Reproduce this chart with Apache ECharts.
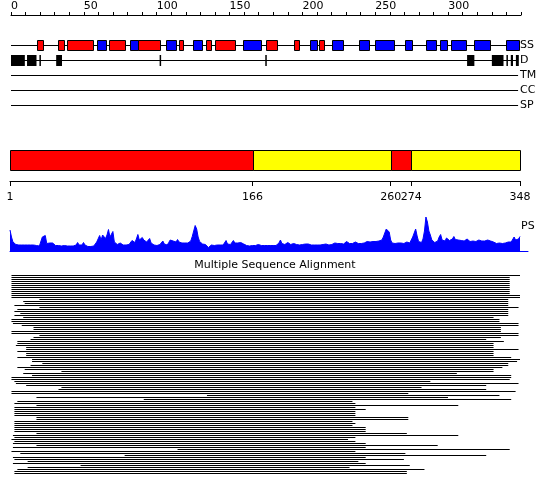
<!DOCTYPE html>
<html><head><meta charset="utf-8">
<script src="https://cdn.jsdelivr.net/npm/echarts@6/dist/echarts.min.js"></script>
<style>html,body{margin:0;padding:0;background:#fff}#c{width:550px;height:495px}</style>
</head><body><div id="c"></div>
<script>
const seqLength = 348;
const trackNames = ['SS', 'D', 'TM', 'CC', 'SP'];
// secondary structure: H = helix, E = strand
const ssStart = [18, 32.5, 38.5, 59, 67.5, 82, 87, 106.5, 115, 125, 134, 140, 159.5, 175, 194, 205.5, 211.5, 220.5, 238.5, 249.5, 270.5, 285, 294.5, 302, 318, 339.5];
const ssEnd   = [22, 36.5, 56, 65, 78.5, 87, 102, 113, 118, 131, 137, 154, 171.5, 182.5, 197.5, 210, 214.5, 227.5, 246, 262.5, 275, 291.5, 299, 312, 329, 348.5];
const ssType  = ['H','H','H','E','H','E','H','E','H','E','H','H','E','H','H','E','H','E','E','E','E','E','E','E','E','E'];
// disorder
const disStart = [0, 11, 19.5, 31, 102, 174.5, 313, 330, 340, 343, 346.5];
const disEnd   = [9.5, 17.5, 20.5, 35, 103, 175.5, 318, 338, 341, 344.5, 348.5];
// domains
const domainBounds = [1, 166, 260, 274, 348];
const domainKind = ['A', 'B', 'A', 'B'];
// PS profile (per residue)
const psValues = [
21,14,9,7,6.5,6.5,6,5.5,6,5.5,6,5.5,6,7,6,5.5,6,7,5.5,5.5,
5,4.5,14,15,15.5,7.5,7,8,7.5,8,7.5,5.5,5,5.5,6.5,5,5,5.5,4.5,5,
5.5,5,4.5,5,5.5,6,8.5,6,5.5,6,8.5,6,5,4.5,5,4.5,4.5,5,7,9,
11,15.5,11,16,18,12.5,16,21.5,14,12,19.5,9,7,6.5,6,8,6.5,6,6.5,6,
7,6.5,7.5,10.5,9,8.5,12,16.5,11,10.5,13.5,11,12.5,9,10,12.5,8,6.5,6,5.5,
5.5,6,6.5,8,10,7,5.5,6,8.5,11,9.5,10,11.5,9,11.5,9,8.5,8,8.5,8,
8.5,8,8.5,10,14.5,20,25.5,22,14,9.5,7.5,7,7,6.5,5,3.5,4.5,6,6,5.5,
6,6,5.5,6,6.5,6,7,10.5,7,6,6.5,7,10.5,8,7.5,8,7.5,8.5,10,7,
6,5.5,5.5,5,5.5,5.5,5,5.5,6,6.5,7,5.5,5,5.5,5,5.5,5,5.5,5,5.5,
5,5.5,6,8,11,7.5,6.5,6.5,7,8.5,7,6.5,7,7.5,7.5,6.5,6.5,6,6.5,6.5,
7,7,8.5,7,6.5,6,6,6,5.5,6,6,6,6.5,6.5,8,7,6.5,6,6.5,6.5,
7,8,9,7.5,7,7.5,7,7,8,9.5,8,7.5,7.5,7.5,8,9,8,7.5,7.5,7.5,
8,8,8.5,9.5,10.5,9,10,9.5,9,9.5,9,10,12,11,14,18,22,21.5,19,11,
8,7.5,7.5,8,8,9,8,7.5,7.5,8,9,8,8,10,14,18,22,15,9.5,8.5,
8.5,12,20,34,29,20,16,11,9,8.5,9,10,14,16.5,11,9.5,10,13,14.5,10.5,
9.5,12,14.5,11.5,10.5,11,13,10.5,9.5,10,11,12,10,9.5,11,10,9.5,9.5,10,11,
12,10,9.5,10,10.5,11,9.5,10,12,9,8,7.5,7.5,8,7.5,7.5,7.5,8,8,9,
9.5,9,11,14,11,9.5,12,14.5
];
// multiple sequence alignment: start / end residue of each aligned sequence
const msaStart = [
2,2,2,2,2,2,2,2,2,2,2,2,21,10,11,4,21,6,4,8,
4,10,2,2,3,9,17,17,2,2,21,17,15,6,6,5,12,12,6,12,
12,6,16,16,23,15,6,11,
36,10,16,2,2,4,5,12,36,34,2,2,135,19,92,6,4,19,4,4,
4,4,4,19,19,4,4,4,4,4,4,19,3,4,2,4,3,19,3,115,
2,8,79,3,4,13,3,49,13,6,4,4
];
const msaEnd = [
348,341,341,341,341,341,341,341,341,341,348,348,340,340,340,340,347,340,340,340,
340,330,334,334,347,347,335,335,335,347,347,335,325,337,330,330,330,347,330,330,
330,342,348,346,340,340,336,330,
330,305,342,342,341,287,347,325,281,325,345,272,334,299,342,234,236,306,236,243,
236,236,236,272,272,234,236,234,243,243,243,271,306,236,231,236,243,292,243,341,
236,270,325,243,269,238,243,273,232,283,271,271
];
const seqIds = msaStart.map((_, i) => 'seq' + (i + 1));

const FONT = 'DejaVu Sans';
const chart = echarts.init(document.getElementById('c'), null, {renderer: 'canvas'});
const hidden = {show: false};
const txt = {fontFamily: FONT, fontSize: 11, color: '#000'};

const option = {
  animation: false,
  textStyle: {fontFamily: FONT},
  title: [
    {text: 'Multiple Sequence Alignment', left: 'center', top: 260, padding: 0,
     textStyle: Object.assign({fontWeight: 'normal'}, txt)},
    {text: 'PS', left: 521, top: 221, padding: 0, textStyle: Object.assign({fontWeight: 'normal'}, txt)}
  ],
  grid: [
    {left: 11, top: 15, width: 510, height: 90},
    {left: 10, top: 150, width: 510, height: 21},
    {left: 10, top: 216, width: 510, height: 35},
    {left: 10, top: 216, width: 518, height: 35},
    {left: 10, top: 274, width: 510, height: 200}
  ],
  xAxis: [
    {gridIndex: 0, type: 'value', min: 0, max: 350, interval: 10, position: 'top',
     axisLine: {onZero: false, lineStyle: {color: '#000', width: 1}},
     axisTick: {length: 3, lineStyle: {color: '#000'}},
     axisLabel: Object.assign({margin: 3, align: 'left',
       formatter: v => (v % 50 === 0 && v < 350) ? String(v) : ''}, txt),
     splitLine: hidden},
    {gridIndex: 1, type: 'value', min: 1, max: 348, offset: 10,
     axisLine: {onZero: false, lineStyle: {color: '#000', width: 1}},
     axisTick: {customValues: domainBounds, length: 5, lineStyle: {color: '#000'}},
     axisLabel: Object.assign({customValues: domainBounds, margin: 11, showMinLabel: true, showMaxLabel: true}, txt),
     splitLine: hidden},
    {gridIndex: 2, type: 'value', min: 1, max: seqLength, show: false},
    {gridIndex: 3, type: 'value', min: 0, max: 1,
     axisLine: {onZero: false, lineStyle: {color: '#0000ff', width: 1}},
     axisTick: hidden, axisLabel: hidden, splitLine: hidden},
    {gridIndex: 4, type: 'value', min: 1, max: seqLength, show: false}
  ],
  yAxis: [
    {gridIndex: 0, type: 'value', min: -2, max: 4, interval: 1, inverse: true, position: 'right',
     axisLine: hidden, axisTick: hidden, splitLine: hidden,
     axisLabel: Object.assign({margin: -1, formatter: v => v >= 0 ? trackNames[v] : ''}, txt)},
    {gridIndex: 1, type: 'value', min: 0, max: 1, show: false},
    {gridIndex: 2, type: 'value', min: 0, max: 35, show: false},
    {gridIndex: 3, type: 'value', min: 0, max: 1, show: false},
    {gridIndex: 4, type: 'category', data: seqIds, inverse: true, show: false}
  ],
  series: [
    // track base lines
    {type: 'custom', xAxisIndex: 0, yAxisIndex: 0, z: 1,
     data: trackNames.map((n, i) => [0, seqLength, i]),
     encode: {x: [0, 1], y: 2},
     renderItem: (params, api) => {
       const a = api.coord([api.value(0), api.value(2)]);
       const b = api.coord([api.value(1), api.value(2)]);
       const y = Math.round(a[1]) + 0.5;
       return {type: 'line', shape: {x1: a[0], y1: y, x2: b[0], y2: y}, style: {stroke: '#000', lineWidth: 1}};
     }},
    // secondary structure boxes
    {type: 'custom', xAxisIndex: 0, yAxisIndex: 0, z: 3,
     data: ssStart.map((s, i) => [s, ssEnd[i], 0, ssType[i] === 'H' ? 1 : 0]),
     encode: {x: [0, 1], y: 2},
     renderItem: (params, api) => {
       const a = api.coord([api.value(0), api.value(2)]);
       const b = api.coord([api.value(1), api.value(2)]);
       const x0 = Math.round(a[0]) + 0.5, x1 = Math.round(b[0]) + 0.5;
       return {type: 'rect', shape: {x: x0, y: Math.round(a[1]) - 5 + 0.5, width: x1 - x0, height: 10},
               style: {fill: api.value(3) === 1 ? '#ff0000' : '#0000ff', stroke: '#000', lineWidth: 1}};
     }},
    // disorder boxes
    {type: 'custom', xAxisIndex: 0, yAxisIndex: 0, z: 3,
     data: disStart.map((s, i) => [s, disEnd[i], 1]),
     encode: {x: [0, 1], y: 2},
     renderItem: (params, api) => {
       const a = api.coord([api.value(0), api.value(2)]);
       const b = api.coord([api.value(1), api.value(2)]);
       return {type: 'rect', shape: {x: a[0], y: Math.round(a[1]) - 5, width: Math.max(b[0] - a[0], 1.5), height: 11},
               style: {fill: '#000'}};
     }},
    // domain bar
    {type: 'custom', xAxisIndex: 1, yAxisIndex: 1, z: 3,
     data: domainKind.map((k, i) => [domainBounds[i], domainBounds[i + 1], k === 'A' ? 1 : 0]),
     encode: {x: [0, 1]},
     renderItem: (params, api) => {
       const a = api.coord([api.value(0), 1]);
       const b = api.coord([api.value(1), 0]);
       const x0 = Math.round(a[0]) + 0.5, x1 = Math.round(b[0]) + 0.5;
       return {type: 'rect', shape: {x: x0, y: Math.round(a[1]) + 0.5, width: x1 - x0, height: Math.round(b[1] - a[1]) - 1},
               style: {fill: api.value(2) === 1 ? '#ff0000' : '#ffff00', stroke: '#000', lineWidth: 1}};
     }},
    // PS profile
    {type: 'line', xAxisIndex: 2, yAxisIndex: 2, z: 2, symbol: 'none', silent: true,
     data: psValues.map((v, i) => [i + 1, v]),
     lineStyle: {color: '#0000ff', width: 1},
     areaStyle: {color: '#0000ff', opacity: 1}},
    // alignment
    {type: 'custom', xAxisIndex: 4, yAxisIndex: 4, z: 3,
     data: msaStart.map((s, i) => [s, msaEnd[i], i]),
     encode: {x: [0, 1], y: 2},
     renderItem: (params, api) => {
       const a = api.coord([api.value(0), api.value(2)]);
       const b = api.coord([api.value(1), api.value(2)]);
       return {type: 'rect', shape: {x: a[0], y: Math.round(a[1] - 0.5), width: b[0] - a[0], height: 1},
               style: {fill: '#000'}};
     }}
  ]
};
chart.setOption(option);
</script>
</body></html>
